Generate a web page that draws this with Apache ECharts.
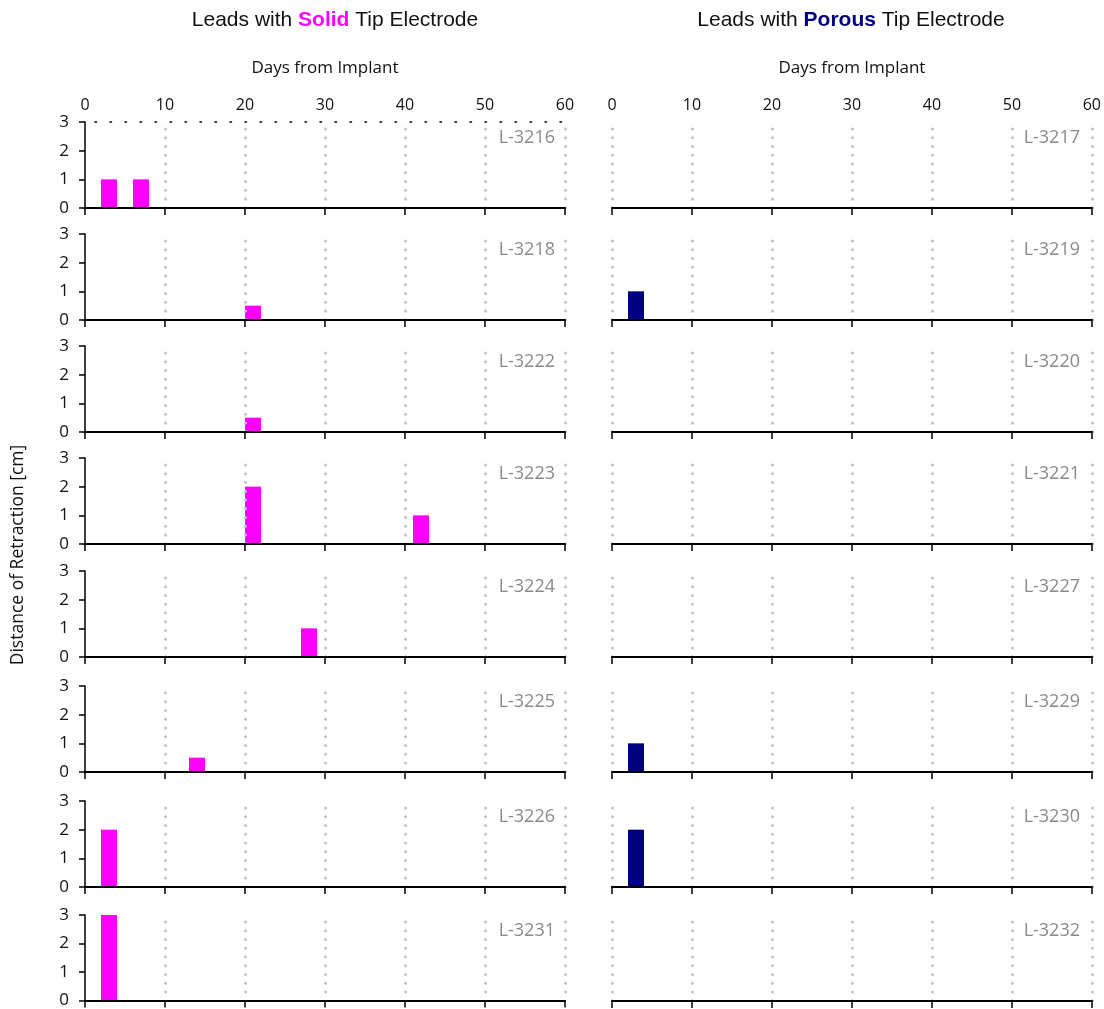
<!DOCTYPE html>
<html><head><meta charset="utf-8">
<script src="https://cdn.jsdelivr.net/npm/echarts@6/dist/echarts.min.js"></script>
<style>html,body{margin:0;padding:0;background:#fff}#c{width:1104px;height:1009px}</style>
</head><body><div id="c"></div>
<script>
// ---- data ----
const xTickMin = 0, xTickMax = 60, xTickStep = 10;
const yTickMin = 0, yTickMax = 3, yTickStep = 1;
const xAxisTitle = 'Days from Implant';
const yAxisTitle = 'Distance of Retraction [cm]';
const solidLeads = ['L-3216','L-3218','L-3222','L-3223','L-3224','L-3225','L-3226','L-3231'];
const solidDays = [[3,7],[21],[21],[21,42],[28],[14],[3],[3]];
const solidValues = [[1,1],[0.5],[0.5],[2,1],[1],[0.5],[2],[3]];
const porousLeads = ['L-3217','L-3219','L-3220','L-3221','L-3227','L-3229','L-3230','L-3232'];
const porousDays = [[],[3],[],[],[],[3],[3],[]];
const porousValues = [[],[1],[],[],[],[1],[2],[]];

// ---- layout ----
const rowTops = [122,234,346,458,571,686,801,915];
const plotH = 86, plotW = 480;
const FONT = '"Open Sans", "Noto Sans", sans-serif';
const TFONT = '"Liberation Sans", Arial, sans-serif';
const cols = [
  {left:85, leads:solidLeads, days:solidDays, vals:solidValues, color:'#FF00FF', showY:true,
   head:'{a|Leads with }{s|Solid}{a| Tip Electrode}', headX:335, labelRight:1104-555},
  {left:612, leads:porousLeads, days:porousDays, vals:porousValues, color:'#000080', showY:false,
   head:'{a|Leads with }{p|Porous}{a| Tip Electrode}', headX:851, labelRight:1104-1080}
];

const grid = [], xAxis = [], yAxis = [], series = [], title = [];
const dotted = {color:'#c2c2c2', width:3, type:[0.01, 8.75], cap:'round', dashOffset:1.75};

cols.forEach((c, ci) => {
  title.push({
    text: c.head, left: c.headX, top: 10, textAlign: 'center', padding: 0,
    textStyle: { fontFamily: TFONT, fontSize: 21, fontWeight: 'normal', color: '#111',
      rich: {
        a: {fontFamily: TFONT, fontSize: 21, color: '#111'},
        s: {fontFamily: TFONT, fontSize: 21, fontWeight: 'bold', color: '#FF00FF'},
        p: {fontFamily: TFONT, fontSize: 21, fontWeight: 'bold', color: '#000080'}
      } }
  });
  c.leads.forEach((lead, ri) => {
    const gi = grid.length;
    grid.push({left: c.left, top: rowTops[ri], width: plotW, height: plotH});
    const bottomIdx = xAxis.length;
    xAxis.push({
      type: 'value', gridIndex: gi, position: 'bottom', min: xTickMin, max: xTickMax, interval: xTickStep,
      axisLine: {show: true, onZero: false, lineStyle: {color: '#000', width: 2}},
      axisTick: {show: true, inside: false, length: 7, lineStyle: {color: '#000', width: 1.5}},
      axisLabel: {show: false},
      splitLine: {show: true, showMinLine: !c.showY, lineStyle: dotted},
      z: 3
    });
    if (ri === 0) {
      xAxis.push({
        type: 'value', gridIndex: gi, position: 'top', min: xTickMin, max: xTickMax, interval: xTickStep,
        axisLine: {show: ci === 0, onZero: false, lineStyle: {color: '#000', width: 1.5, type: [1.5, 13.5], dashOffset: 5}},
        axisTick: {show: false},
        axisLabel: {show: true, fontFamily: FONT, fontSize: 16, color: '#111', margin: 9},
        splitLine: {show: false},
        name: xAxisTitle, nameLocation: 'middle', nameGap: 45,
        nameTextStyle: {fontFamily: FONT, fontSize: 17, color: '#111'}
      });
    }
    yAxis.push({
      type: 'value', gridIndex: gi, min: yTickMin, max: yTickMax, interval: yTickStep,
      show: c.showY, z: 5,
      axisLine: {show: true, lineStyle: {color: '#000', width: 1.5}},
      axisTick: {show: true, inside: false, length: 6, lineStyle: {color: '#000', width: 1.5}},
      axisLabel: {show: true, fontFamily: FONT, fontSize: 17, color: '#111', margin: 16},
      splitLine: {show: false}
    });
    const d = c.days[ri].map((x, k) => [x, c.vals[ri][k]]);
    series.push({
      type: 'bar', xAxisIndex: bottomIdx, yAxisIndex: gi, data: d, barWidth: 16,
      itemStyle: {color: c.color}, z: 2, silent: true, animation: false
    });
    title.push({
      text: lead, right: c.labelRight, top: rowTops[ri] + 7, padding: 0,
      textStyle: {fontFamily: FONT, fontSize: 18, fontWeight: 'normal', color: '#8a8a8a'}
    });
  });
});

const chart = echarts.init(document.getElementById('c'), null, {renderer: 'canvas'});
chart.setOption({
  animation: false,
  backgroundColor: '#fff',
  title, grid, xAxis, yAxis, series,
  graphic: [{
    type: 'text', x: 18, y: 555, rotation: Math.PI / 2,
    style: {text: yAxisTitle, fontFamily: FONT, fontSize: 17.5, fill: '#111', textAlign: 'center', textVerticalAlign: 'middle'}
  }]
});
</script>
</body></html>
